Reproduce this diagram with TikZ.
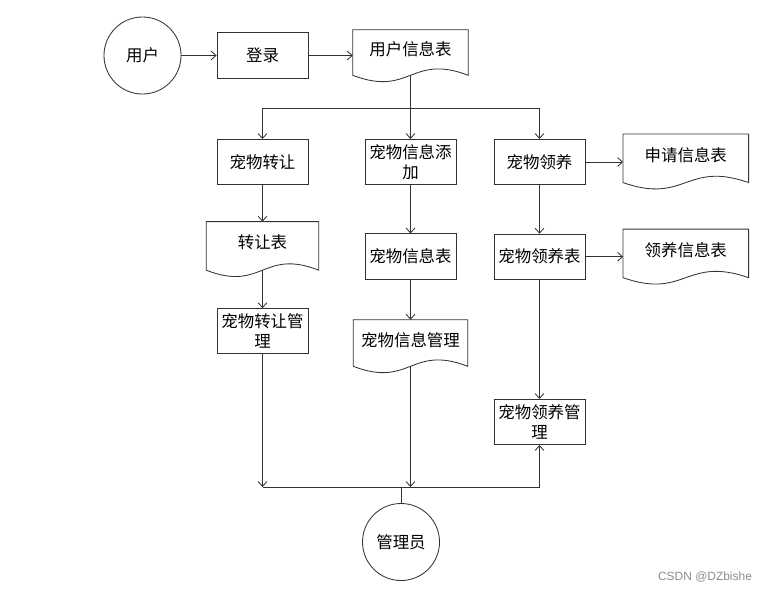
\documentclass[tikz,border=0pt]{standalone}
\usepackage{fontspec}
\setmainfont{Noto Sans CJK SC}
\newfontfamily\markfont{Liberation Sans}
\usetikzlibrary{arrows.meta,calc}

% outline of a document symbol round a named node
\newcommand{\docoutline}[1]{%
  \draw[line] (#1.north west) -- (#1.north east) -- (#1.south east)
    .. controls ($(#1.south)+(0,0.55cm)$) and ($(#1.south)+(0,-0.55cm)$) .. (#1.south west) -- cycle;}

\tikzset{
  line/.style={draw=black!80, line width=0.6pt},
  conn/.style={line, -{Straight Barb[length=1.2mm,width=2.2mm]}},
  txt/.style={font=\fontsize{11.7pt}{14.2pt}\selectfont, inner sep=0pt, align=center},
  actor/.style={txt, line, circle, minimum size=1.925cm},
  procbox/.style={txt, line, minimum width=2.275cm, minimum height=1.13cm},
  docnode/.style={txt, text depth=5.5pt},
}

\begin{document}
\begin{tikzpicture}[x=0.025cm, y=-0.025cm]
  \useasboundingbox (0,0) rectangle (768,592);

  % top row
  \node[actor] (user) at (142.5,55.5) {用户};
  \node[procbox] (login) at (262.5,55.5) {登录};
  \node[docnode, minimum width=2.875cm, minimum height=1.125cm] (uinfo) at (410.5,52.5) {用户信息表};
  \docoutline{uinfo}

  % second row
  \node[procbox] (transfer) at (262.5,162) {宠物转让};
  \node[procbox] (petadd) at (410.5,162) {宠物信息添\\加};
  \node[procbox] (adopt) at (539.5,162) {宠物领养};
  \node[docnode, minimum width=3.125cm, minimum height=1.2cm] (applytab) at (685.8,158.3) {申请信息表};
  \docoutline{applytab}

  % third row
  \node[docnode, minimum width=2.8cm, minimum height=1.2cm] (transtab) at (262.5,245.9) {转让表};
  \docoutline{transtab}
  \node[procbox] (pettab) at (410.5,256.5) {宠物信息表};
  \node[procbox] (adopttab) at (539.5,256.7) {宠物领养表};
  \node[docnode, minimum width=3.125cm, minimum height=1.2cm] (adoptinfo) at (685.8,253.4) {领养信息表};
  \docoutline{adoptinfo}

  % management row
  \node[procbox] (transmgr) at (262.5,331.2) {宠物转让管\\理};
  \node[docnode, minimum width=2.85cm, minimum height=1.15cm] (petmgr) at (410.5,343) {宠物信息管理};
  \docoutline{petmgr}
  \node[procbox] (adoptmgr) at (539.5,422) {宠物领养管\\理};

  \node[actor] (admin) at (401,542) {管理员};

  \coordinate (fork) at (410.5,108);
  \coordinate (join) at (401,487);

  \draw[conn] (user) -- (login);
  \draw[conn] (login.east) -- (login.east -| uinfo.west);
  \draw[conn] (uinfo.south) -- (petadd.north);
  \draw[conn] (fork) -| (transfer.north);
  \draw[conn] (fork) -| (adopt.north);
  \draw[conn] (adopt.east) -- (adopt.east -| applytab.west);
  \draw[conn] (transfer) -- (transtab);
  \draw[conn] (petadd) -- (pettab);
  \draw[conn] (adopt) -- (adopttab);
  \draw[conn] (adopttab.east) -- (adopttab.east -| adoptinfo.west);
  \draw[conn] (transtab.south) -- (transmgr.north);
  \draw[conn] (pettab.south) -- (petmgr.north);
  \draw[conn] (adopttab) -- (adoptmgr);
  \draw[conn] (transmgr.south) -- (transmgr.south |- join);
  \draw[conn] (petmgr.south) -- (petmgr.south |- join);
  \draw[conn] (transmgr.south |- join) -| (adoptmgr.south);
  \draw[line] (admin.north) -- (join);

  \node[font=\markfont\fontsize{8.5pt}{10pt}\selectfont, text=black!45, inner sep=0pt] (csdn) at (705,577) {CSDN @DZbishe};
\end{tikzpicture}
\end{document}
